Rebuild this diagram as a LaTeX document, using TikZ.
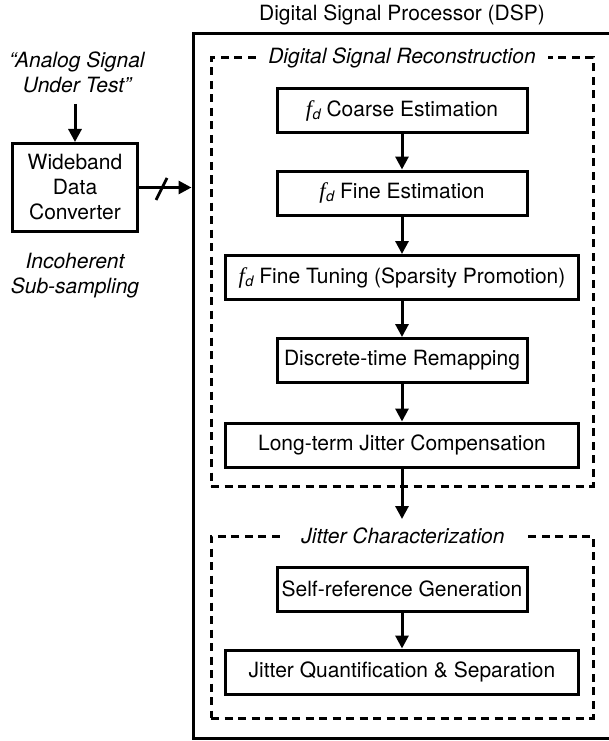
\documentclass[tikz,border=0pt]{standalone}
\usepackage{fontspec}
\setmainfont{TeX Gyre Heros}
\newfontfamily\fdserif{Liberation Serif}
\usetikzlibrary{arrows.meta}
\newcommand{\fdsym}{{\fdserif\itshape\fontsize{22.5}{25}\selectfont f}\kern0.5pt\raisebox{-3pt}{\itshape\fontsize{14.5}{16}\selectfont d}}
\begin{document}
\begin{tikzpicture}[x=1pt,y=-1pt,
  txt/.style={font=\fontsize{21}{25}\selectfont},
  blk/.style={draw, line width=3pt, txt, inner sep=0pt, minimum height=44pt},
  dbox/.style={draw, line width=3pt, dash pattern=on 8pt off 5.5pt, inner sep=0pt},
  dtitle/.style={fill=white, txt, font=\fontsize{21}{25}\selectfont\itshape, inner xsep=12pt, inner ysep=2pt},
  arr/.style={line width=3pt, -{Triangle[length=13pt,width=13pt]}}
]
\useasboundingbox (0,0) rectangle (608,741);
% outer DSP box
\node[draw, line width=3pt, minimum width=426pt, minimum height=704pt, inner sep=0pt] (dsp) at (406,386) {};
\node[txt] (dsptitle) at (402,15) {Digital Signal Processor (DSP)};
% dashed groups
\node[dbox, minimum width=382pt, minimum height=428pt] (grp1) at (402,272) {};
\node[dtitle] (grp1t) at (402,58) {Digital Signal Reconstruction};
\node[dbox, minimum width=382pt, minimum height=182pt] (grp2) at (402,627) {};
\node[dtitle, inner xsep=20pt] (grp2t) at (403,536) {Jitter Characterization};
% blocks
\node[blk, minimum width=250pt] (coarse) at (402,110.5) {\fdsym{} Coarse Estimation};
\node[blk, minimum width=250pt] (fine) at (402,193) {\fdsym{} Fine Estimation};
\node[blk, minimum width=353pt] (tune) at (402,277.5) {\fdsym{} Fine Tuning (Sparsity Promotion)};
\node[blk, minimum width=250pt] (remap) at (402,360.5) {Discrete-time Remapping};
\node[blk, minimum width=353pt] (comp) at (402,445) {Long-term Jitter Compensation};
\node[blk, minimum width=250pt] (selfref) at (402,589) {Self-reference Generation};
\node[blk, minimum width=353pt] (quant) at (402,672) {Jitter Quantification \& Separation};
\coordinate (compend) at (402,519);
\draw[arr] (coarse) -- (fine);
\draw[arr] (fine) -- (tune);
\draw[arr] (tune) -- (remap);
\draw[arr] (remap) -- (comp);
\draw[arr] (comp) -- (compend);
\draw[arr] (selfref) -- (quant);
% left side
\node[txt, font=\fontsize{21}{25}\selectfont\itshape, align=center] (analog) at (77,72) {“Analog Signal\\Under Test”};
\node[draw, line width=3pt, txt, align=center, minimum width=125pt, minimum height=88pt, inner sep=0pt] (wb) at (75,187.5) {Wideband\\Data\\Converter};
\node[txt, font=\fontsize{21}{25}\selectfont\itshape, align=center] (incoh) at (75,276) {Incoherent\\Sub-sampling};
\coordinate (inp) at (75,104);
\draw[arr] (inp) -- (wb);
\draw[arr] (wb.east) -- (wb.east -| dsp.west);
\coordinate (sl1) at (156,200);
\coordinate (sl2) at (167,178);
\draw[line width=2.8pt] (sl1) -- (sl2);
\end{tikzpicture}
\end{document}
